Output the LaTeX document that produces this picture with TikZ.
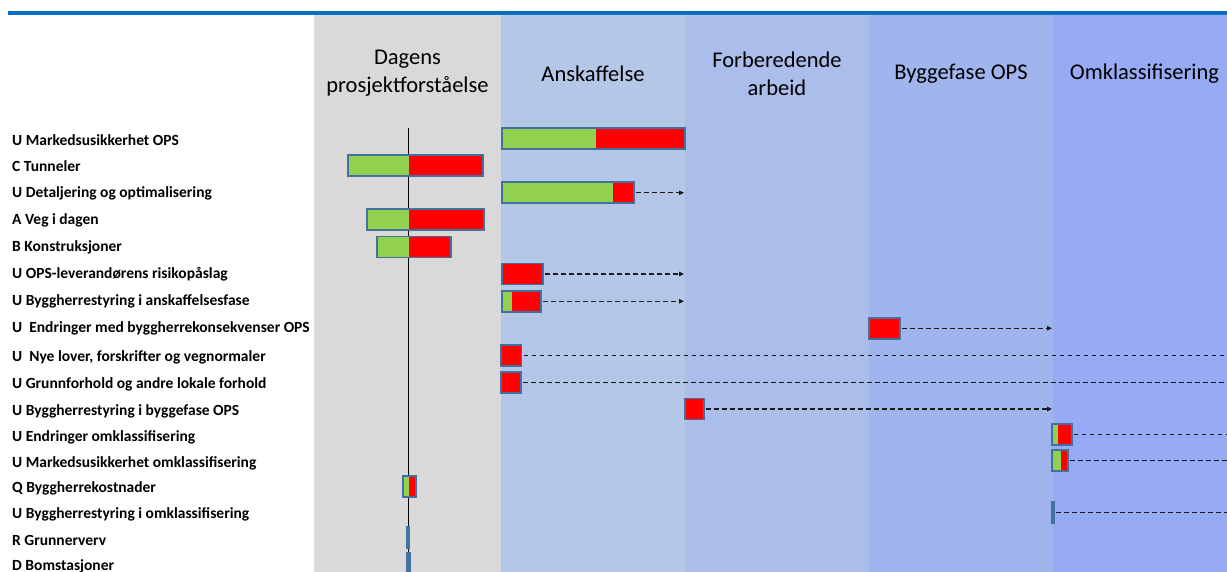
\documentclass[tikz,border=0pt]{standalone}
\usepackage{fontspec}
\setmainfont{Carlito}
\usetikzlibrary{arrows.meta}
\definecolor{topblue}{HTML}{0070C0}
\definecolor{colgray}{HTML}{D9D9D9}
\definecolor{colA}{HTML}{B4C7E7}
\definecolor{colB}{HTML}{AABDEB}
\definecolor{colC}{HTML}{A0B4EE}
\definecolor{colD}{HTML}{97ABF5}
\definecolor{gfill}{HTML}{92D050}
\definecolor{rfill}{HTML}{FF0000}
\definecolor{frameblue}{HTML}{41719C}
\definecolor{dashcol}{HTML}{1A1A1A}
\tikzset{
 header/.style={font=\fontsize{22.5}{28}\selectfont, align=center, text=black, inner sep=0pt},
 rowlabel/.style={font=\bfseries\fontsize{15.5}{17}\selectfont, anchor=west, inner sep=0pt, text height=9pt, text depth=3pt},
 frame/.style={draw=frameblue, line width=1.7pt, inner sep=0pt, outer sep=0pt, rectangle},
 dasharrow/.style={draw=dashcol, line width=1.2pt, dash pattern=on 4.7pt off 3.3pt, -{Triangle[length=5pt,width=4.5pt]}, shorten <=2pt},
 dashline/.style={draw=dashcol, line width=1.2pt, dash pattern=on 4.7pt off 3.3pt, shorten <=2pt},
}
\newcommand\riskbar[5]{%
  \fill[gfill] (#2,#5-10.5) rectangle (#3,#5+10.5);
  \fill[rfill] (#3,#5-10.5) rectangle (#4,#5+10.5);
  \node[frame, minimum width=#4pt-#2pt, minimum height=21pt] (#1) at ({(#2+#4)/2},#5) {};
}
\begin{document}
\begin{tikzpicture}[x=1pt,y=-1pt]
\useasboundingbox (0,0) rectangle (1227,572);
% columns
\fill[colgray] (314,15) rectangle (501,572);
\fill[colA] (501,15) rectangle (685,572);
\fill[colB] (685,15) rectangle (869,572);
\fill[colC] (869,15) rectangle (1053,572);
\fill[colD] (1053,15) rectangle (1227,572);
% top rule
\draw[topblue, line width=4pt] (8,13) -- (1227,13);
% headers
\node[header] (h1) at (407.5,73.5) {Dagens\\prosjektforståelse};
\node[header] (h2) at (593,74) {Anskaffelse};
\node[header] (h3) at (777,73.5) {Forberedende\\arbeid};
\node[header] (h4) at (961,74) {Byggefase OPS};
\node[header] (h5) at (1144.5,74) {Omklassifisering};
% row labels
\node[rowlabel] (l1) at (12,142.5) {U Markedsusikkerhet OPS};
\node[rowlabel] (l2) at (12,168.5) {C Tunneler};
\node[rowlabel] (l3) at (12,195) {U Detaljering og optimalisering};
\node[rowlabel] (l4) at (12,222) {A Veg i dagen};
\node[rowlabel] (l5) at (12,248.5) {B Konstruksjoner};
\node[rowlabel] (l6) at (12,276) {U OPS-leverandørens risikopåslag};
\node[rowlabel] (l7) at (12,302.5) {U Byggherrestyring i anskaffelsesfase};
\node[rowlabel] (l8) at (12,329) {U\ \ Endringer med byggherrekonsekvenser OPS};
\node[rowlabel] (l9) at (12,358.3) {U\ \ Nye lover, forskrifter og vegnormaler};
\node[rowlabel] (l10) at (12,385) {U Grunnforhold og andre lokale forhold};
\node[rowlabel] (l11) at (12,412) {U Byggherrestyring i byggefase OPS};
\node[rowlabel] (l12) at (12,438.5) {U Endringer omklassifisering};
\node[rowlabel] (l13) at (12,464.5) {U Markedsusikkerhet omklassifisering};
\node[rowlabel] (l14) at (12,489.3) {Q Byggherrekostnader};
\node[rowlabel] (l15) at (12,515.2) {U Byggherrestyring i omklassifisering};
\node[rowlabel] (l16) at (12,542) {R Grunnerverv};
\node[rowlabel] (l17) at (12,567.2) {D Bomstasjoner};
% reference line
\coordinate (vtop) at (408.5,128);
\coordinate (vbot) at (408.5,572);
\draw[black, line width=1pt] (vtop) -- (vbot);
% bars
\riskbar{b1}{501.7}{596}{685}{138.7}
\riskbar{b2}{348}{409}{483.3}{165.7}
\riskbar{b3}{501.7}{613.3}{634.3}{192.7}
\riskbar{b4}{366.7}{409}{484.3}{219.8}
\riskbar{b5}{377.3}{409}{450.7}{247}
\riskbar{b6}{501.7}{502.6}{543.3}{274}
\riskbar{b7}{501.7}{511.7}{541}{301.3}
\riskbar{b8}{869}{869}{900}{328.2}
\riskbar{b9}{501.2}{501.2}{521.5}{355.3}
\riskbar{b10}{501.2}{501.2}{521}{382.7}
\riskbar{b11}{684.7}{684.7}{704.3}{409}
\riskbar{b12}{1052}{1058}{1071.7}{434.8}
\riskbar{b13}{1052}{1061}{1068.3}{460.8}
\riskbar{b14}{403.3}{409.3}{415.7}{486.2}
\riskbar{b15}{1052.3}{1053.6}{1054.3}{512.2}
\node[frame, fill=frameblue, minimum width=3pt, minimum height=21pt] (b16) at (408,537.8) {};
\node[frame, fill=frameblue, minimum width=3pt, minimum height=21pt] (b17) at (408.2,563) {};
% connector ends
\coordinate (e3) at (684,192.7);
\coordinate (e6) at (684,274);
\coordinate (e7) at (684,301.3);
\coordinate (e8) at (1052,328.2);
\coordinate (e9) at (1227,355.3);
\coordinate (e10) at (1227,382.7);
\coordinate (e11) at (1052,409);
\coordinate (e12) at (1227,434.8);
\coordinate (e13) at (1227,460.8);
\coordinate (e15) at (1227,512.2);
% connectors
\draw[dasharrow] (b3.east) -- (e3);
\draw[dasharrow] (b6.east) -- (e6);
\draw[dasharrow] (b7.east) -- (e7);
\draw[dasharrow] (b8.east) -- (e8);
\draw[dashline] (b9.east) -- (e9);
\draw[dashline] (b10.east) -- (e10);
\draw[dasharrow] (b11.east) -- (e11);
\draw[dashline] (b12.east) -- (e12);
\draw[dashline] (b13.east) -- (e13);
\draw[dashline] (b15.east) -- (e15);
\end{tikzpicture}
\end{document}
